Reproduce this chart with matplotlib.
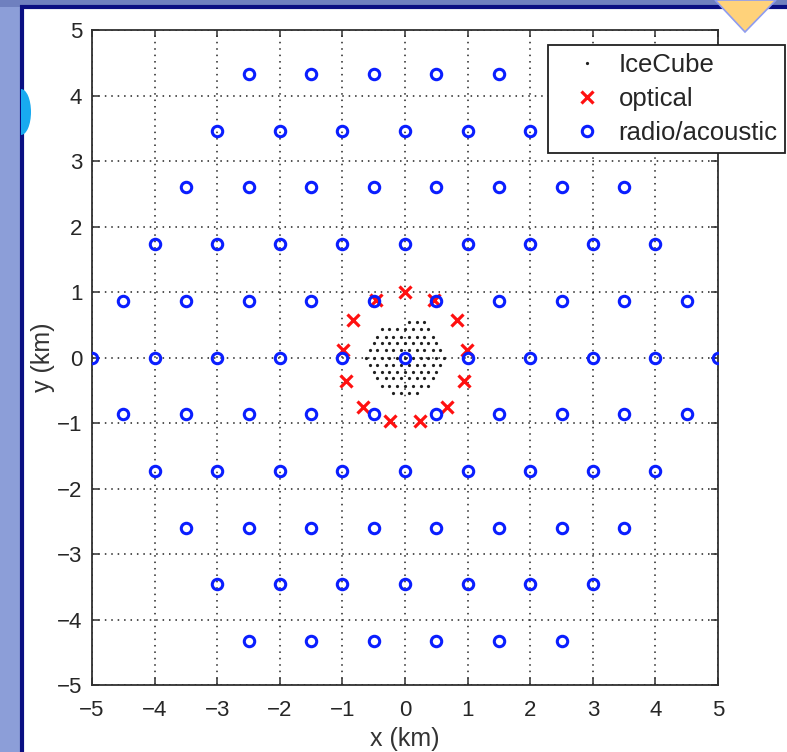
import matplotlib
matplotlib.use("Agg")
import matplotlib.pyplot as plt
from matplotlib.patches import Rectangle, Ellipse, Polygon

plt.rcParams['font.family'] = ['Liberation Sans', 'DejaVu Sans']

# ---------------- data ----------------
# radio/acoustic stations (hexagonal array, rows of constant y)
radio_row_y = [4.33, 3.46, 2.60, 1.73, 0.87, 0.0, -0.87, -1.73, -2.60, -3.46, -4.33]
radio_row_x = [
    [-2.5, -1.5, -0.5, 0.5, 1.5, 2.5],
    [-3, -2, -1, 0, 1, 2, 3],
    [-3.5, -2.5, -1.5, -0.5, 0.5, 1.5, 2.5, 3.5],
    [-4, -3, -2, -1, 0, 1, 2, 3, 4],
    [-4.5, -3.5, -2.5, -1.5, -0.5, 0.5, 1.5, 2.5, 3.5, 4.5],
    [-5, -4, -3, -2, -1, 0, 1, 2, 3, 4, 5],
    [-4.5, -3.5, -2.5, -1.5, -0.5, 0.5, 1.5, 2.5, 3.5, 4.5],
    [-4, -3, -2, -1, 0, 1, 2, 3, 4],
    [-3.5, -2.5, -1.5, -0.5, 0.5, 1.5, 2.5, 3.5],
    [-3, -2, -1, 0, 1, 2, 3],
    [-2.5, -1.5, -0.5, 0.5, 1.5, 2.5],
]

# optical strings (ring of radius ~1 km)
optical_x = [0.0, 0.465, 0.823, 0.993, 0.935, 0.663, 0.239,
             -0.239, -0.663, -0.935, -0.993, -0.823, -0.465]
optical_y = [1.0, 0.885, 0.568, 0.120, -0.355, -0.749, -0.971,
             -0.971, -0.749, -0.355, 0.120, 0.568, 0.885]

# IceCube strings (rows of constant y)
ice_row_y = [0.54, 0.43, 0.32, 0.22, 0.11, 0.0, -0.11, -0.22, -0.32, -0.43, -0.54]
ice_row_x = [
    [0.06, 0.19, 0.31],
    [-0.375, -0.25, -0.125, 0.0, 0.125, 0.25, 0.375],
    [-0.44, -0.31, -0.19, -0.06, 0.06, 0.19, 0.31, 0.44],
    [-0.5, -0.375, -0.25, -0.125, 0.0, 0.125, 0.25, 0.375, 0.5],
    [-0.56, -0.44, -0.31, -0.19, -0.06, 0.06, 0.19, 0.31, 0.44, 0.56],
    [-0.625, -0.5, -0.375, -0.25, -0.125, 0.0, 0.125, 0.25, 0.375, 0.5, 0.625],
    [-0.56, -0.44, -0.31, -0.19, -0.06, 0.06, 0.19, 0.31, 0.44, 0.56],
    [-0.5, -0.375, -0.25, -0.125, 0.0, 0.125, 0.25, 0.375, 0.5],
    [-0.44, -0.31, -0.19, -0.06, 0.06, 0.19, 0.31, 0.44],
    [-0.375, -0.25, -0.125, 0.0, 0.125, 0.25, 0.375],
    [-0.19, -0.06, 0.06, 0.19],
]

ticks = [-5, -4, -3, -2, -1, 0, 1, 2, 3, 4, 5]

radio_x = [x for row in radio_row_x for x in row]
radio_y = [y for y, row in zip(radio_row_y, radio_row_x) for _ in row]
ice_x = [x for row in ice_row_x for x in row]
ice_y = [y for y, row in zip(ice_row_y, ice_row_x) for _ in row]

# ---------------- figure ----------------
W, H = 787, 752
fig = plt.figure(figsize=(W / 100, H / 100), dpi=100)
fig.patch.set_facecolor('#8c9ed8')

def px(x0, y0, w, h):
    return (x0 / W, 1 - (y0 + h) / H, w / W, h / H)

# slide background decorations
bx0, by0, bw, bh = px(0, 0, W, 7)
fig.patches.append(Rectangle((bx0, by0), bw, bh, transform=fig.transFigure,
                             facecolor='#6f80bf', edgecolor='none', zorder=0))
# white panel with navy border
rx, ry, rw, rh = px(22, 7, W, H)
fig.patches.append(Rectangle((rx, ry), rw, rh, transform=fig.transFigure,
                             facecolor='white', edgecolor='#0a0f82', linewidth=3, zorder=1))
# cyan blob at left edge of the panel (only its right half shows)
blob = Ellipse((21 / W, 1 - 112 / H), 20 / W, 46 / H, transform=fig.transFigure,
               facecolor='#18aaf0', edgecolor='none', zorder=2)
clip = Rectangle((21 / W, 0), 1, 1, transform=fig.transFigure)
blob.set_clip_path(clip)
fig.patches.append(blob)
# orange triangle top right
fig.patches.append(Polygon([(715 / W, 1.0), (776 / W, 1.0), (745 / W, 1 - 32 / H)],
                           closed=True, transform=fig.transFigure,
                           facecolor='#ffd27a', edgecolor='#8e9cf0', linewidth=1.2, zorder=2))

ax = fig.add_axes(px(92, 30, 626, 655))
ax.set_zorder(3)
ax.set_facecolor('white')

ax.plot(ice_x, ice_y, linestyle='none', marker='.', color='#202020',
        markersize=2.6, label='IceCube', zorder=3)
ax.plot(optical_x, optical_y, linestyle='none', marker='x', color='#ff1010',
        markersize=8, markeredgewidth=2.3, label='optical', zorder=4)
ax.plot(radio_x, radio_y, linestyle='none', marker='o', markerfacecolor='none',
        markeredgecolor='#0a1eff', markersize=7.5, markeredgewidth=2.2,
        label='radio/acoustic', zorder=5)

ax.set_xlim(-5, 5)
ax.set_ylim(-5, 5)
ax.set_xticks(ticks)
ax.set_yticks(ticks)
ax.grid(True, color='#222222', linestyle=(0, (1, 3.2)), linewidth=1.1)
ax.set_axisbelow(True)

for s in ax.spines.values():
    s.set_color('#303030')
    s.set_linewidth(1.3)
ax.tick_params(direction='in', length=5, width=1.1, color='#303030',
               top=True, right=True, labelsize=16, labelcolor='#262626')
ax.tick_params(axis='x', pad=11)
ax.tick_params(axis='y', pad=7)

ax.set_xlabel('x (km)', fontsize=18, color='#333333', labelpad=4)
ax.set_ylabel('y (km)', fontsize=18, color='#333333', labelpad=1)

leg = ax.legend(loc='upper left', bbox_to_anchor=(548 / W, 1 - 45 / H),
                bbox_transform=fig.transFigure, fontsize=18.5, fancybox=False,
                framealpha=1, edgecolor='#202020', handletextpad=0.05,
                borderpad=0.3, labelspacing=0.4, handlelength=2.4,
                borderaxespad=0, markerscale=1.0)
leg.get_frame().set_linewidth(1.3)
for t in leg.get_texts():
    t.set_color('#262626')

fig.savefig('out.png', dpi=100, facecolor=fig.get_facecolor())
